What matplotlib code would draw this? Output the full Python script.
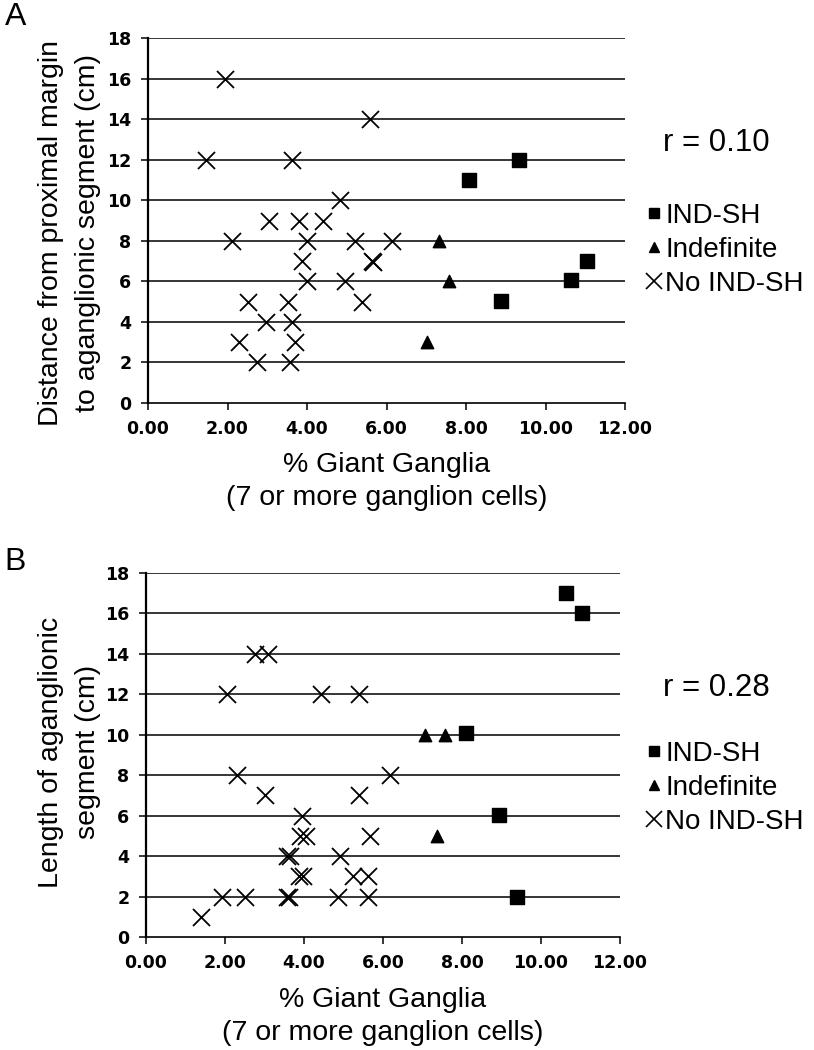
import matplotlib
matplotlib.use("Agg")
import matplotlib.pyplot as plt
from matplotlib.lines import Line2D

# ---------------- data ----------------
# Panel A: distance from proximal margin to aganglionic segment (cm)
A_nosh_x = [1.94, 5.58, 1.46, 3.62, 4.83, 3.04, 3.80, 4.40, 2.11, 4.00, 5.21, 6.14, 3.87,
            5.63, 5.66, 4.00, 4.96, 5.38, 2.52, 3.52, 2.97, 3.62, 2.29, 3.70, 2.74, 3.57]
A_nosh_y = [16, 14, 12, 12, 10, 9, 9, 9, 8, 8, 8, 8, 7,
            7, 6.95, 6, 6, 5, 5, 5, 4, 4, 3, 3, 2, 2]
A_sh_x = [9.33, 8.08, 11.04, 10.64, 8.88]
A_sh_y = [12, 11, 7, 6.05, 5.05]
A_ind_x = [7.32, 7.57, 7.02]
A_ind_y = [8, 6, 3]
A_r = "r = 0.10"

# Panel B: length of aganglionic segment (cm)
B_nosh_x = [1.40, 1.93, 2.51, 3.58, 3.62, 4.85, 5.61, 3.88, 3.98, 5.25, 5.61, 3.58, 3.65, 4.92,
            3.91, 4.04, 5.66, 3.96, 3.00, 5.38, 2.31, 6.17, 2.06, 4.42, 5.38, 2.77, 3.10]
B_nosh_y = [1, 2, 2, 2, 2, 2, 2, 3, 3, 3, 3, 4, 4, 4,
            5, 5, 5, 6, 7, 7, 8, 8, 12, 12, 12, 14, 14]
B_sh_x = [10.63, 11.04, 8.10, 8.93, 9.39]
B_sh_y = [17, 16, 10.1, 6.05, 2]
B_ind_x = [7.06, 7.56, 7.36]
B_ind_y = [10, 10, 5]
B_r = "r = 0.28"

x_ticks = [0, 2, 4, 6, 8, 10, 12]
x_tick_labels = ["0.00", "2.00", "4.00", "6.00", "8.00", "10.00", "12.00"]
y_ticks = [0, 2, 4, 6, 8, 10, 12, 14, 16, 18]
legend_labels = ["IND-SH", "Indefinite", "No IND-SH"]
xlabel_lines = ["% Giant Ganglia", "(7 or more ganglion cells)"]
A_ylabel = ["Distance from proximal margin", "to aganglionic segment (cm)"]
B_ylabel = ["Length of aganglionic", "segment (cm)"]

# ---------------- figure ----------------
W, H = 814, 1050
fig = plt.figure(figsize=(W / 100, H / 100), dpi=100)
LAB = "Liberation Sans"
TICK = "DejaVu Sans"


def fx(px):
    return px / W


def fy(py):
    return 1 - py / H


def panel(rect, sx, sy, tx, ty, nx, ny, rtext, r_y, leg_top, ylab, ylab_y, xl_y, letter, letter_xy):
    l, r, t, b = rect
    ax = fig.add_axes([fx(l), fy(b), fx(r) - fx(l), fy(t) - fy(b)])
    ax.set_xlim(0, 12)
    ax.set_ylim(0, 18)
    for yv in y_ticks[1:]:
        ax.axhline(yv, color="black", lw=1.1, zorder=1)
    ax.scatter(nx, ny, marker="x", s=150, color="black", linewidths=1.3, zorder=3)
    ax.scatter(sx, sy, marker="s", s=105, color="black", zorder=3)
    ax.scatter(tx, ty, marker="^", s=80, color="black", zorder=3)
    for sp in ["top", "right"]:
        ax.spines[sp].set_visible(False)
    ax.spines["left"].set_linewidth(1.6)
    ax.spines["bottom"].set_linewidth(1.2)
    ax.set_xticks(x_ticks)
    ax.set_xticklabels(x_tick_labels)
    ax.set_yticks(y_ticks)
    ax.tick_params(axis="both", direction="out", length=5, width=1.1, colors="black",
                   labelsize=12.5, pad=7)
    for lab in ax.get_xticklabels() + ax.get_yticklabels():
        lab.set_fontfamily(TICK)
        lab.set_fontweight("bold")
    # r value
    fig.text(fx(663), fy(r_y), rtext, fontsize=22.5, family=LAB, ha="left", va="center")
    # legend
    handles = [Line2D([], [], marker="s", ls="none", color="black", markersize=6.5),
               Line2D([], [], marker="^", ls="none", color="black", markersize=6.5),
               Line2D([], [], marker="x", ls="none", color="black", markersize=11,
                      markeredgewidth=1.2)]
    ax.legend(handles, legend_labels, loc="upper left",
              bbox_to_anchor=(fx(646), fy(leg_top)), bbox_transform=fig.transFigure,
              frameon=False, prop={"family": LAB, "size": 20}, handlelength=0.55,
              handletextpad=0.15, labelspacing=0.28, borderpad=0, borderaxespad=0)
    # y label (two lines)
    fig.text(fx(51), fy(ylab_y), ylab[0], rotation=90, fontsize=20.5, family=LAB,
             ha="center", va="center")
    fig.text(fx(88), fy(ylab_y), ylab[1], rotation=90, fontsize=20.5, family=LAB,
             ha="center", va="center")
    # x label (two lines)
    cx = (l + r) / 2
    fig.text(fx(cx), fy(xl_y), xlabel_lines[0], fontsize=20.5, family=LAB, ha="center", va="center")
    fig.text(fx(cx), fy(xl_y + 33), xlabel_lines[1], fontsize=20.5, family=LAB, ha="center", va="center")
    fig.text(fx(letter_xy[0]), fy(letter_xy[1]), letter, fontsize=23, family=LAB,
             ha="center", va="center")
    return ax


panel((148, 625, 38, 403), A_sh_x, A_sh_y, A_ind_x, A_ind_y, A_nosh_x, A_nosh_y,
      A_r, 143, 203, A_ylabel, 233, 465, "A", (16, 17))
panel((146, 620, 573, 937), B_sh_x, B_sh_y, B_ind_x, B_ind_y, B_nosh_x, B_nosh_y,
      B_r, 688, 741, B_ylabel, 752, 1000, "B", (15, 562))

fig.savefig("out.png", dpi=100)
